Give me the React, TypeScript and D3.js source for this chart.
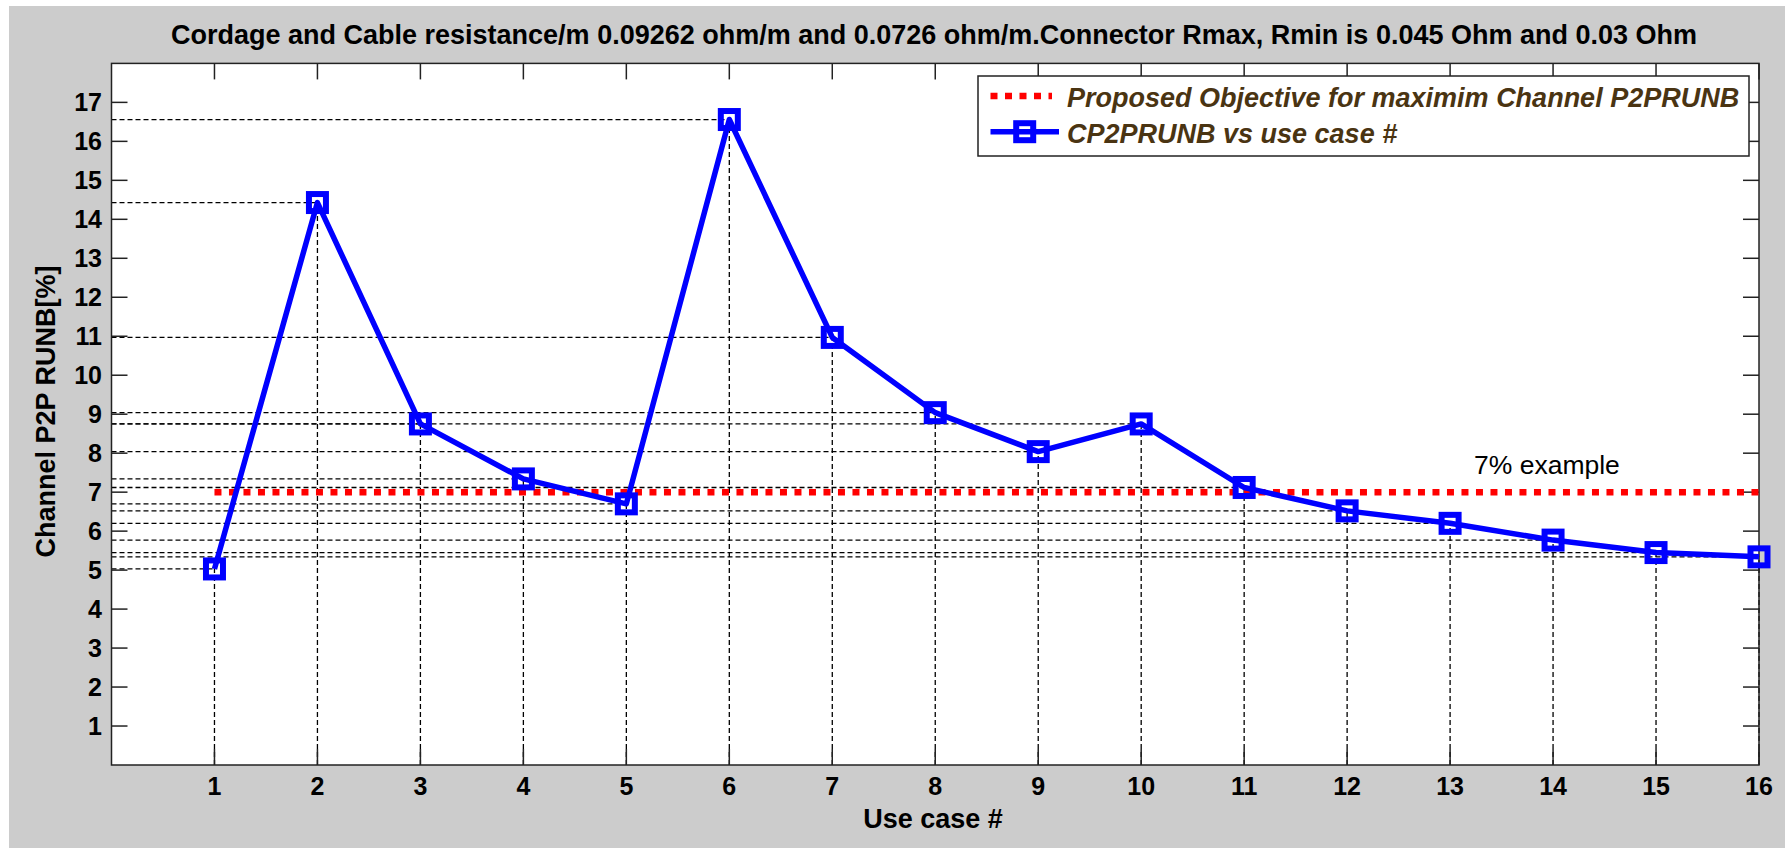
import React from 'react';
import * as d3 from 'd3';

const useCases = [1, 2, 3, 4, 5, 6, 7, 8, 9, 10, 11, 12, 13, 14, 15, 16];
const runbValues = [5.03, 14.43, 8.75, 7.34, 6.7, 16.56, 10.97, 9.04, 8.04, 8.75, 7.12, 6.52, 6.2, 5.77, 5.45, 5.34];
const objectiveValue = 7;
const xTicks = [1, 2, 3, 4, 5, 6, 7, 8, 9, 10, 11, 12, 13, 14, 15, 16];
const yTicks = [1, 2, 3, 4, 5, 6, 7, 8, 9, 10, 11, 12, 13, 14, 15, 16, 17];
const titleText = 'Cordage and Cable resistance/m 0.09262 ohm/m and 0.0726 ohm/m.Connector Rmax, Rmin is 0.045 Ohm and 0.03 Ohm';
const xLabel = 'Use case #';
const yLabel = 'Channel P2P RUNB[%]';
const legendObjective = 'Proposed Objective for maximim Channel P2PRUNB';
const legendSeries = 'CP2PRUNB vs use case #';
const annotation = '7% example';

const W = 1785;
const H = 848;
const FONT = '"Liberation Sans", Arial, Helvetica, sans-serif';

export default function App() {
  const left = 111.5, right = 1759, top = 63.4, bottom = 765;
  const x = d3.scaleLinear().domain([0, 16]).range([left, right]);
  const y = d3.scaleLinear().domain([0, 18]).range([bottom, top]);
  const pts = useCases.map((u, i) => [u, runbValues[i]] as [number, number]);
  const line = d3.line<[number, number]>().x(d => x(d[0])).y(d => y(d[1]));
  const tickLen = 16;
  const axisColor = '#222';
  const legendText = '#4a3412';
  const mk = 17;

  return (
    <svg width={W} height={H} style={{ position: 'absolute', left: 0, top: 0, display: 'block' }} fontFamily={FONT}>
      <rect x={0} y={0} width={W} height={H} fill="#ffffff" />
      <rect x={9} y={6} width={W - 9} height={H - 6} fill="#cccccc" />
      <rect x={left} y={top} width={right - left} height={bottom - top} fill="#ffffff" />

      {/* guide lines */}
      <g stroke="#000" strokeWidth={1.3} strokeDasharray="5,3" fill="none">
        {pts.map((p, i) => (
          <line key={'h' + i} x1={x(0)} x2={x(p[0])} y1={y(p[1])} y2={y(p[1])} />
        ))}
        {pts.map((p, i) => (
          <line key={'v' + i} x1={x(p[0])} x2={x(p[0])} y1={y(0)} y2={y(p[1])} />
        ))}
      </g>

      {/* axes box and ticks */}
      <g stroke={axisColor} strokeWidth={1.5} fill="none">
        <rect x={left} y={top} width={right - left} height={bottom - top} />
        {xTicks.map(t => (
          <g key={'xt' + t}>
            <line x1={x(t)} x2={x(t)} y1={bottom} y2={bottom - tickLen} />
            <line x1={x(t)} x2={x(t)} y1={top} y2={top + tickLen} />
          </g>
        ))}
        {yTicks.map(t => (
          <g key={'yt' + t}>
            <line x1={left} x2={left + tickLen} y1={y(t)} y2={y(t)} />
            <line x1={right} x2={right - tickLen} y1={y(t)} y2={y(t)} />
          </g>
        ))}
      </g>

      {/* tick labels */}
      <g fontSize={25} fontWeight="bold" fill="#000">
        {xTicks.map(t => (
          <text key={'xl' + t} x={x(t)} y={795} textAnchor="middle">{t}</text>
        ))}
        {yTicks.map(t => (
          <text key={'yl' + t} x={102} y={y(t)} dy="0.36em" textAnchor="end">{t}</text>
        ))}
      </g>

      {/* objective line */}
      <line x1={x(1)} x2={x(16)} y1={y(objectiveValue)} y2={y(objectiveValue)} stroke="#ff0000" strokeWidth={6.5} strokeDasharray="7,7.5" />

      {/* series */}
      <path d={line(pts) || ''} fill="none" stroke="#0000ff" strokeWidth={5.5} strokeLinejoin="round" />
      {pts.map((p, i) => (
        <rect key={'m' + i} x={x(p[0]) - mk / 2} y={y(p[1]) - mk / 2} width={mk} height={mk} fill="none" stroke="#0000ff" strokeWidth={6} />
      ))}

      {/* annotation */}
      <text x={1474} y={474} fontSize={26.5} fill="#000">{annotation}</text>

      {/* title and labels */}
      <text x={934} y={43.5} textAnchor="middle" fontSize={27} fontWeight="bold" fill="#000">{titleText}</text>
      <text x={933} y={827.5} textAnchor="middle" fontSize={27} fontWeight="bold" fill="#000">{xLabel}</text>
      <text transform={`translate(55,${411.5}) rotate(-90)`} textAnchor="middle" fontSize={27} fontWeight="bold" fill="#000">{yLabel}</text>

      {/* legend */}
      <g>
        <rect x={978} y={76} width={771} height={80} fill="#ffffff" stroke={axisColor} strokeWidth={1.5} />
        <line x1={990.5} x2={1052} y1={96} y2={96} stroke="#ff0000" strokeWidth={6.5} strokeDasharray="7,7.5" />
        <line x1={990.5} x2={1059} y1={131.7} y2={131.7} stroke="#0000ff" strokeWidth={5.5} />
        <rect x={1024.7 - mk / 2} y={131.7 - mk / 2} width={mk} height={mk} fill="none" stroke="#0000ff" strokeWidth={6} />
        <text x={1067} y={106.5} fontSize={27} fontWeight="bold" fontStyle="italic" fill={legendText}>{legendObjective}</text>
        <text x={1067} y={142.5} fontSize={27} fontWeight="bold" fontStyle="italic" fill={legendText}>{legendSeries}</text>
      </g>
    </svg>
  );
}
